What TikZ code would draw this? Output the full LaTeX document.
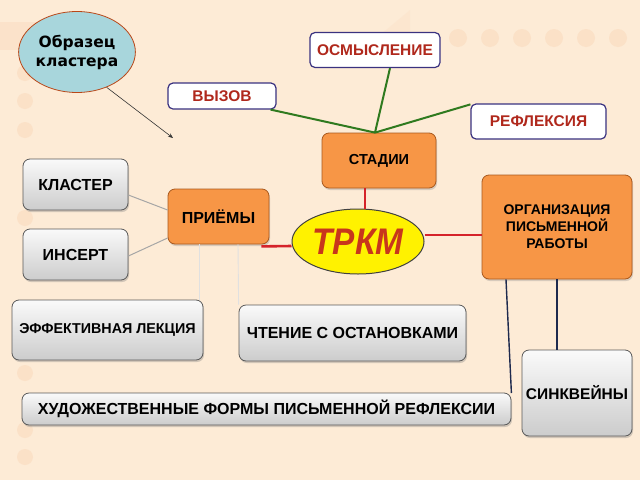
\documentclass[tikz,border=0pt]{standalone}
\usepackage{fontspec}
\setmainfont{Liberation Sans}
\newfontfamily\dejavu{DejaVu Sans}
\usetikzlibrary{shapes.geometric,shadows,arrows.meta,calc}
\definecolor{bg}{HTML}{FDEBD6}
\definecolor{decor}{HTML}{FBDDC2}
\definecolor{orangefill}{HTML}{F79646}
\definecolor{orangeline}{HTML}{A8591E}
\definecolor{bluefill}{HTML}{A8D6DC}
\definecolor{darkred}{HTML}{B0281C}
\definecolor{boxblue}{HTML}{3A3280}
\definecolor{greenline}{HTML}{2F7A1F}
\definecolor{redline}{HTML}{D5232A}
\definecolor{navyline}{HTML}{1E2A4E}
\definecolor{trkm}{HTML}{C8361C}
\begin{document}
\begin{tikzpicture}[x=1pt,y=-1pt,
  graybox/.style={draw=black!65, line width=0.8pt, rounded corners=7pt,
    top color=white!96!gray, bottom color=gray!40,
    drop shadow={opacity=0.35, shadow xshift=1pt, shadow yshift=-2pt},
    font=\bfseries\fontsize{16}{18}\selectfont, align=center, inner sep=0pt},
  orangebox/.style={draw=orangeline, line width=0.8pt, rounded corners=7pt,
    fill=orangefill, drop shadow={opacity=0.3, shadow xshift=1pt, shadow yshift=-2pt},
    font=\bfseries\fontsize{15}{17}\selectfont, align=center, inner sep=0pt},
  whitebox/.style={draw=boxblue, line width=1.2pt, rounded corners=5pt, fill=white,
    text=darkred, font=\bfseries\fontsize{15.5}{17}\selectfont, inner sep=0pt},
  greenconn/.style={greenline, line width=2pt},
  redconn/.style={redline, line width=2.6pt},
  grayconn/.style={gray!70, line width=1pt},
  faintconn/.style={black!12, line width=0.9pt},
  navyconn/.style={navyline, line width=1.4pt}]
% background
\fill[bg] (0,0) rectangle (640,480);
\useasboundingbox (0,0) rectangle (640,480);
% decorations
\fill[decor,opacity=0.6] (0,22) rectangle (40,50);
\fill[decor,opacity=0.3] (350,60) -- (410,10) -- (410,60) -- cycle;
\foreach \xx in {458,490,522,554,586,618}
  \fill[decor,opacity=0.7] (\xx,38) circle (9);
\foreach \yy in {73,101,130,218,373,430,457}
  \fill[decor,opacity=0.7] (25,\yy) circle (8);

% nodes
\node[ellipse, draw=orangeline!80!red, line width=0.8pt, fill=bluefill,
  minimum width=111, minimum height=81, inner sep=0pt, align=center,
  font=\dejavu\bfseries\fontsize{15.5}{19}\selectfont] (obr) at (77,52) {Образец\\кластера};
\coordinate (arrowend) at (173,138);

\node[whitebox, minimum width=130, minimum height=35] (osm) at (375,50) {ОСМЫСЛЕНИЕ};
\node[whitebox, minimum width=108, minimum height=26] (vyz) at (222,96) {ВЫЗОВ};
\node[whitebox, minimum width=135, minimum height=35] (ref) at (538.5,121.5) {РЕФЛЕКСИЯ};

\node[orangebox, minimum width=114, minimum height=55, font=\bfseries\fontsize{14.5}{16}\selectfont] (stad) at (379,160.5) {СТАДИИ};
\node[orangebox, minimum width=101, minimum height=55, font=\bfseries\fontsize{16}{18}\selectfont] (prie) at (218.5,216.5) {ПРИЁМЫ};
\node[orangebox, minimum width=150, minimum height=104,
  font=\bfseries\fontsize{14}{17}\selectfont] (org) at (557,227) {ОРГАНИЗАЦИЯ\\ПИСЬМЕННОЙ\\РАБОТЫ};

\node[ellipse, draw=black!75, line width=1pt, fill=yellow, minimum width=132,
  minimum height=65, inner sep=0pt, text=trkm,
  font=\bfseries\itshape\fontsize{37}{40}\selectfont\addfontfeature{FakeStretch=0.9}] (trkm) at (358,241.5) {ТРКМ};

\node[graybox, minimum width=105, minimum height=51] (klas) at (75.5,184.5) {КЛАСТЕР};
\node[graybox, minimum width=105, minimum height=51] (ins) at (75.5,254.5) {ИНСЕРТ};
\node[graybox, minimum width=191, minimum height=60,
  font=\bfseries\fontsize{14.3}{16}\selectfont] (eff) at (107.5,330) {ЭФФЕКТИВНАЯ ЛЕКЦИЯ};
\node[graybox, minimum width=227, minimum height=56] (cht) at (352.5,333) {ЧТЕНИЕ С ОСТАНОВКАМИ};
\node[graybox, minimum width=489, minimum height=32] (hud) at (266.5,409) {ХУДОЖЕСТВЕННЫЕ ФОРМЫ ПИСЬМЕННОЙ РЕФЛЕКСИИ};
\node[graybox, minimum width=110, minimum height=86, font=\bfseries\fontsize{15.5}{18}\selectfont] (sink) at (577,393) {СИНКВЕЙНЫ};

% connectors
\draw[-{Stealth[length=5pt,width=4pt]}, black!80, line width=0.6pt] (obr.-50) -- (arrowend);

\coordinate (hub) at ($(stad.north)+(-4,0)$);
\draw[greenconn] ($(vyz.south east)+(-6,0)$) -- (hub);
\draw[greenconn] ($(osm.south)+(15,0)$) -- (hub);
\draw[greenconn] ($(ref.north west)+(0,1)$) -- (hub);

\draw[redconn] ($(stad.south)+(-14,0)$) -- ($(trkm.north)+(7,0)$);
\draw[redconn] ($(prie.south east)+(-8,2)$) -- (trkm.west |- {(0,246)});
\draw[redconn] (trkm.east |- {(0,235)}) -- (org.west |- {(0,235)});

\draw[grayconn] (klas.east |- {(0,195)}) -- (prie.west |- {(0,210)});
\draw[grayconn] (ins.east |- {(0,256)}) -- (prie.west |- {(0,238)});

\draw[faintconn] (prie.south -| {(199,0)}) -- (eff.north -| {(199,0)});
\draw[faintconn] (prie.south -| {(238,0)}) -- (cht.north west);

\draw[navyconn] (org.south -| {(506,0)}) -- (hud.north east |- {(506,393)});
\draw[navyconn] (org.south -| {(557,0)}) -- (sink.north -| {(557,0)});
\end{tikzpicture}
\end{document}
